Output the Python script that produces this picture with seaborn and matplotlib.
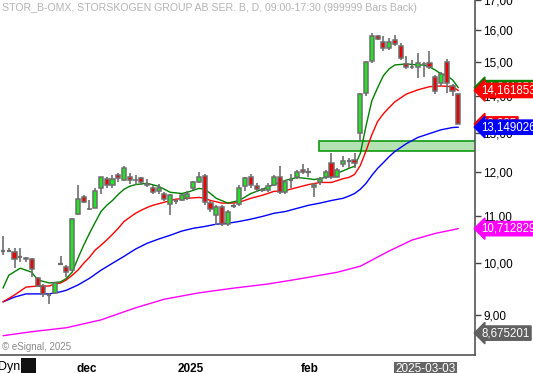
import numpy as np
import pandas as pd
import matplotlib
matplotlib.use("Agg")
import matplotlib.pyplot as plt
import matplotlib.transforms as mtransforms
from matplotlib.patches import Rectangle
import seaborn as sns

# daily bars STOR_B, 2024-11-11 .. 2025-03-11 (index = trading day)
opens = [10.25, 10.25, 10.22, 10.11, 10.09, 10.07, 9.69, 9.54, 9.36, 9.41,
         9.97, 9.91, 9.85, 11.03, 11.41, 11.15, 11.18, 11.62, 11.85, 11.71,
         11.95, 11.83, 11.90, 11.82, 11.86, 11.72, 11.64, 11.55, 11.50, 11.25,
         11.32, 11.34, 11.39, 11.64, 11.76, 11.92, 11.28, 11.01, 11.20, 10.81,
         11.22, 11.25, 11.67, 11.88, 11.67, 11.58, 11.58, 11.71, 11.90, 11.53,
         11.82, 11.88, 12.07, 12.00, 11.66, 11.76, 11.88, 12.24, 11.90, 12.20,
         12.28, 12.31, 13.00, 14.09, 15.03, 15.81, 15.62, 15.43, 15.68, 15.50,
         14.94, 14.84, 14.84, 14.95, 14.98, 14.56, 14.38, 15.00, 14.29, 14.06]
highs = [10.55, 10.30, 10.30, 10.30, 10.12, 10.09, 9.71, 9.58, 9.41, 9.62,
         10.13, 9.95, 10.94, 11.69, 11.46, 11.34, 11.62, 11.90, 11.90, 11.93,
         11.98, 12.15, 11.98, 11.95, 11.90, 11.85, 11.70, 11.72, 11.53, 11.48,
         11.38, 11.50, 11.55, 11.80, 12.00, 11.97, 11.33, 11.23, 11.23, 11.13,
         11.27, 11.70, 11.90, 11.97, 11.74, 11.62, 11.74, 11.95, 12.15, 11.83,
         11.97, 12.07, 12.20, 12.12, 11.74, 11.88, 12.05, 12.49, 12.10, 12.40,
         12.35, 12.49, 14.10, 15.03, 15.90, 15.85, 15.81, 15.75, 15.84, 15.60,
         15.18, 15.05, 15.28, 15.00, 15.33, 14.60, 14.70, 15.09, 14.34, 14.07]
lows = [10.15, 10.22, 9.89, 10.01, 10.02, 9.71, 9.52, 9.33, 9.20, 9.39,
        9.95, 9.71, 9.83, 11.01, 11.28, 11.12, 11.16, 11.50, 11.62, 11.62,
        11.78, 11.80, 11.72, 11.69, 11.69, 11.65, 11.48, 11.50, 11.33, 11.01,
        11.27, 11.32, 11.36, 11.58, 11.74, 11.23, 11.09, 10.80, 10.78, 10.78,
        11.18, 11.22, 11.55, 11.64, 11.53, 11.53, 11.53, 11.67, 11.50, 11.48,
        11.64, 11.85, 11.97, 11.88, 11.43, 11.71, 11.85, 11.85, 11.88, 12.13,
        12.10, 12.10, 12.80, 14.00, 14.98, 15.68, 15.33, 15.36, 15.50, 15.05,
        14.80, 14.80, 14.53, 14.55, 14.78, 14.06, 14.30, 14.09, 14.01, 13.24]
closes = [10.25, 10.25, 10.07, 10.11, 10.08, 9.87, 9.54, 9.39, 9.36, 9.60,
          9.97, 9.81, 10.92, 11.37, 11.30, 11.14, 11.55, 11.88, 11.71, 11.85,
          11.86, 12.10, 11.83, 11.81, 11.78, 11.71, 11.53, 11.64, 11.37, 11.46,
          11.32, 11.46, 11.50, 11.76, 11.90, 11.30, 11.14, 11.20, 10.81, 11.09,
          11.22, 11.64, 11.86, 11.69, 11.60, 11.58, 11.67, 11.90, 11.53, 11.78,
          11.82, 12.00, 12.00, 12.00, 11.69, 11.85, 12.02, 11.88, 12.07, 12.29,
          12.28, 12.22, 14.07, 15.00, 15.81, 15.72, 15.43, 15.62, 15.56, 15.12,
          14.84, 14.86, 14.98, 14.94, 14.84, 14.15, 14.64, 14.38, 14.15, 13.235]

# moving averages, read at some bars
green_idx = [0, 1, 3, 5, 6, 8, 10, 11, 12, 13, 14, 15, 16, 17, 18, 19, 20, 21, 22, 23,
             25, 27, 29, 31, 32, 34, 35, 36, 37, 39, 41, 43, 45, 47, 49, 51, 53, 54, 56,
             58, 60, 61, 62, 63, 64, 65, 66, 67, 68, 70, 72, 73, 74, 75, 76, 77, 78, 79]
green_ma = [9.50, 9.75, 9.89, 9.81, 9.66, 9.60, 9.62, 9.69, 9.81, 10.09, 10.36, 10.61,
            10.85, 11.09, 11.23, 11.34, 11.48, 11.60, 11.67, 11.71, 11.74, 11.67, 11.53,
            11.50, 11.53, 11.62, 11.60, 11.50, 11.39, 11.28, 11.34, 11.50, 11.60, 11.71,
            11.81, 11.88, 11.85, 11.83, 11.88, 11.98, 12.10, 12.15, 12.47, 13.19, 13.87,
            14.24, 14.59, 14.79, 14.91, 14.94, 14.91, 14.91, 14.85, 14.76, 14.64, 14.59,
            14.47, 14.24]
red_idx = [0, 2, 4, 6, 8, 9, 10, 11, 12, 13, 14, 15, 16, 17, 18, 19, 20, 21, 22, 23,
           24, 25, 26, 28, 30, 32, 34, 35, 36, 38, 40, 41, 43, 45, 47, 49, 51, 53, 55,
           57, 59, 60, 61, 62, 63, 64, 65, 66, 67, 68, 69, 70, 72, 74, 76, 78, 79]
red_ma = [9.24, 9.37, 9.52, 9.54, 9.54, 9.58, 9.60, 9.66, 9.75, 9.85, 9.99, 10.11,
          10.26, 10.36, 10.47, 10.59, 10.72, 10.87, 10.96, 11.05, 11.12, 11.18, 11.23,
          11.30, 11.37, 11.39, 11.41, 11.39, 11.34, 11.28, 11.28, 11.30, 11.39, 11.46,
          11.55, 11.57, 11.64, 11.71, 11.76, 11.76, 11.85, 11.88, 11.95, 12.17, 12.54,
          12.95, 13.30, 13.51, 13.68, 13.84, 13.95, 14.06, 14.18, 14.27, 14.29, 14.27,
          14.16]
blue_idx = [0, 2, 4, 8, 10, 11, 13, 15, 17, 19, 21, 23, 25, 27, 29, 31, 33, 35, 37, 39,
            41, 43, 45, 47, 49, 51, 53, 55, 57, 59, 60, 61, 62, 63, 64, 65, 66, 67, 68,
            69, 70, 72, 74, 76, 78, 79]
blue_ma = [9.24, 9.33, 9.39, 9.39, 9.43, 9.46, 9.56, 9.69, 9.85, 9.99, 10.13, 10.28,
           10.40, 10.49, 10.57, 10.66, 10.72, 10.76, 10.81, 10.83, 10.87, 10.92, 10.98,
           11.05, 11.09, 11.16, 11.23, 11.28, 11.34, 11.39, 11.44, 11.50, 11.60, 11.74,
           11.93, 12.10, 12.24, 12.39, 12.52, 12.62, 12.72, 12.88, 12.98, 13.08, 13.14,
           13.149]
magenta_idx = [0, 5, 11, 17, 23, 28, 34, 40, 46, 52, 58, 62, 67, 71, 75, 79]
magenta_ma = [8.63, 8.70, 8.77, 8.91, 9.13, 9.29, 9.41, 9.50, 9.58, 9.69, 9.81, 9.93,
              10.24, 10.47, 10.61, 10.713]

# support zone
zone_start = 54.9
zone_low, zone_high = 12.52, 12.80

# right side value tags
tag_vals = [14.241852, 14.161853, 13.235, 13.149026, 10.712829, 8.675201]
tag_text = ["14,241852", "14,161853", "13,235", "13,149026", "10,712829", "8,675201"]
tag_cols = ["#008000", "#ff0000", "#ff0000", "#0000ff", "#ff00ff", "#606060"]

ytick_vals = [9, 10, 11, 12, 13, 14, 15, 16, 17]
xtick_pos = [14.6, 32.6, 53.3, 73.3]
xtick_lab = ["dec", "2025", "feb", "2025-03-03"]

sns.set_style("white")
plt.rcParams['font.family'] = ['Liberation Sans', 'DejaVu Sans']

fig = plt.figure(figsize=(5.33, 3.73), dpi=100)
ax = fig.add_axes([0, 18 / 373, 475 / 533, 355 / 373])
ax.set_yscale("log")

df = pd.DataFrame({"o": opens, "h": highs, "l": lows, "c": closes})
df["i"] = np.arange(len(df))

ax.add_patch(Rectangle((zone_start, zone_low), 100, zone_high - zone_low,
                       fc="#b3e2b3", ec="#109a10", lw=1.2, zorder=1))

# moving averages
for idx, vals, col in [(magenta_idx, magenta_ma, "#ff00ff"), (blue_idx, blue_ma, "#0000ff"),
                       (red_idx, red_ma, "#ff0000"), (green_idx, green_ma, "#008000")]:
    sns.lineplot(x=idx, y=vals, color=col, lw=1, ax=ax, estimator=None, zorder=2)

# candles
ax.vlines(df.i, df.l, df.h, color="#6e6e6e", lw=1.2, zorder=3)
body = df[df.c != df.o]
cols = np.where(body.c > body.o, "#1ee61e", "#ee0000")
ax.bar(body.i, (body.c - body.o).abs(), bottom=np.minimum(body.o, body.c), width=0.72,
       color=cols, edgecolor="#6e6e6e", lw=1.1, zorder=4)
doji = df[df.c == df.o]
ax.hlines(doji.c, doji.i - 0.38, doji.i + 0.38, color="#6e6e6e", lw=1.6, zorder=4)

ax.set_xlim(-0.52, 81.9)
ax.set_ylim(8.30, 16.96)

ax.yaxis.tick_right()
ax.yaxis.set_minor_locator(matplotlib.ticker.NullLocator())
ax.set_yticks(ytick_vals)
ax.set_yticklabels([f"{v},00" for v in ytick_vals])
ax.set_xticks(xtick_pos)
ax.set_xticklabels(xtick_lab)
ax.tick_params(axis="both", direction="out", length=4, width=1, colors="#444444",
               labelcolor="black", labelsize=8.5, pad=2)
for lab in ax.get_xticklabels()[:3]:
    lab.set_fontweight("bold")
last = ax.get_xticklabels()[3]
last.set_color("white")
last.set_bbox(dict(boxstyle="square,pad=0.15", fc="#646464", ec="none"))

for s in ["left", "top"]:
    ax.spines[s].set_visible(False)
for s in ["right", "bottom"]:
    ax.spines[s].set_color("#555555")
    ax.spines[s].set_linewidth(1.2)
ax.set_xlabel("")
ax.set_ylabel("")

trans = mtransforms.blended_transform_factory(ax.transAxes, ax.transData)
for v, t, c in zip(tag_vals, tag_text, tag_cols):
    ax.text(1.014, v, t, transform=trans, va="center", ha="left", fontsize=8.3, color="white",
            bbox=dict(boxstyle="larrow,pad=0.1", fc=c, ec=c), clip_on=False, zorder=10)

fig.text(0.003, 1 - 8 / 373, "STOR_B-OMX, STORSKOGEN GROUP AB SER. B, D, 09:00-17:30 (999999 Bars Back)",
         fontsize=7.6, color="#b4b4b4", va="center", ha="left")
fig.text(0.003, (373 - 347) / 373, "© eSignal, 2025", fontsize=7, color="#8a8a8a",
         va="center", ha="left")
fig.text(-0.004, 6 / 373, "Dyn", fontsize=9, color="black", va="center", ha="left")
fig.patches.append(Rectangle((21 / 533, 0), 15 / 533, 15 / 373, transform=fig.transFigure,
                             fc="#111111", ec="none"))

fig.savefig("out.png", dpi=100)
